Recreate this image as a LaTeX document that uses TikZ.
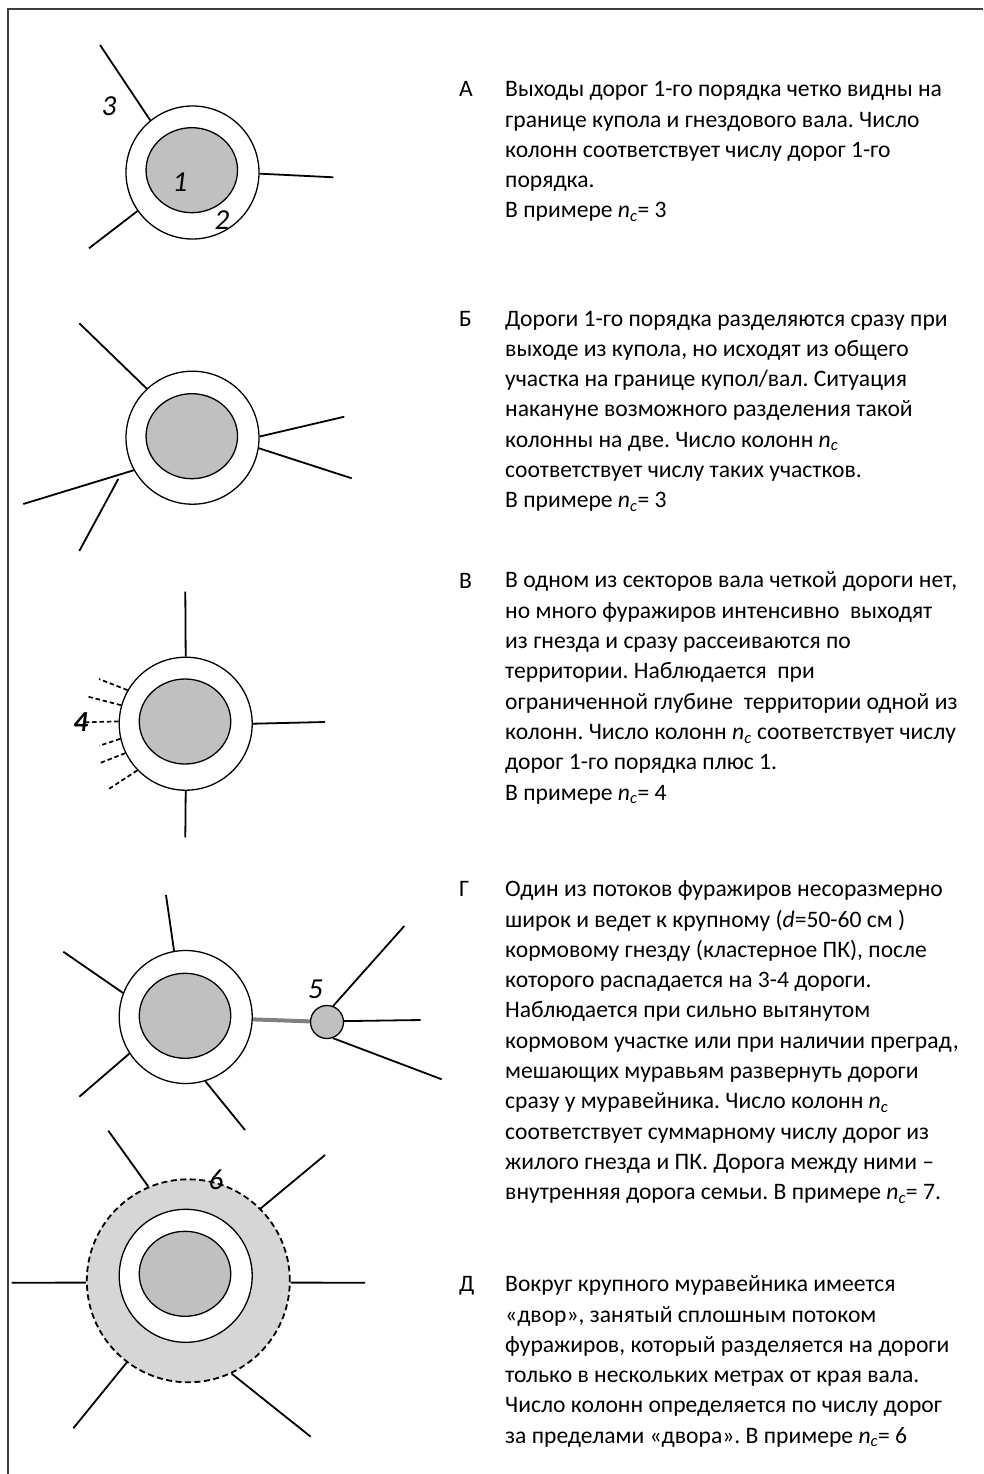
\documentclass[tikz,border=0pt]{standalone}
\usepackage{fontspec}
\setmainfont{Carlito}
\usetikzlibrary{shapes.geometric,calc}
\definecolor{domegray}{RGB}{192,192,192}
\definecolor{yardgray}{RGB}{214,214,214}
\definecolor{linkgray}{RGB}{128,128,128}
\definecolor{framegray}{RGB}{60,60,60}
\newcommand{\ncol}{\textit{n}\textsubscript{\textit{c}}}
\frenchspacing
\begin{document}
\begin{tikzpicture}[x=1pt,y=-1pt,
 wall/.style={circle,draw,line width=1.3pt,fill=white,inner sep=0pt,minimum size=133pt},
 dome/.style={ellipse,draw,line width=1.3pt,fill=domegray,inner sep=0pt,minimum width=91.5pt,minimum height=85pt},
 cluster/.style={circle,draw,line width=1.3pt,fill=domegray,inner sep=0pt,minimum size=33pt},
 yard/.style={circle,draw,line width=1.8pt,dash pattern=on 6pt off 3.5pt,fill=yardgray,inner sep=0pt,minimum size=203pt},
 road/.style={line width=1.8pt},
 trail/.style={line width=1.7pt,dash pattern=on 4.5pt off 2.8pt},
 link/.style={line width=4pt,draw=linkgray},
 num/.style={font=\fontsize{29}{30}\selectfont\itshape,inner sep=0pt},
 para/.style={anchor=base west,align=left,inner sep=0pt,font=\fontsize{23.6}{30.3}\selectfont},
 tag/.style={anchor=base west,inner sep=0pt,font=\fontsize{23.6}{30.3}\selectfont},
 frame/.style={draw=framegray,line width=1.6pt}]
\useasboundingbox (0,0) rectangle (983,1474);
\coordinate (fb) at (8,1474);
\coordinate (fc) at (8,9);
\coordinate (fr) at (983,9);
\draw[frame] (fb) -- (fc) -- (fr);

% ---- A ----
\node[wall] (A) at (192.5,172.5) {};
\node[dome] (Ad) at (191.8,170.2) {};
\coordinate (a1) at (100,45);
\coordinate (a2) at (333.3,177.3);
\coordinate (a3) at (89,248.3);
\draw[road] (A.129.4) -- (a1);
\draw[road] (A.-1.5) -- (a2);
\draw[road] (A.215.8) -- (a3);
\node[num] (n1) at (180,181.7) {1};
\node[num] (n2) at (222,220) {2};
\node[num] (n3) at (109,106) {3};

% ---- B ----
\node[wall] (B) at (192.5,437.7) {};
\node[dome] (Bd) at (191.8,436.2) {};
\coordinate (b1) at (79.3,323.3);
\coordinate (b2) at (344.3,416.7);
\coordinate (b3) at (351.7,478.3);
\coordinate (b4) at (23.3,504);
\coordinate (b5s) at (118.3,479);
\coordinate (b5) at (79.3,551);
\draw[road] (B.133.4) -- (b1);
\draw[road] (B.1.5) -- (b2);
\draw[road] (B.-9.7) -- (b3);
\draw[road] (B.209.1) -- (b4);
\draw[road] (b5s) -- (b5);

% ---- C ----
\node[wall] (C) at (185.7,723.7) {};
\node[dome] (Cd) at (185,721.5) {};
\coordinate (c1) at (185.3,591.7);
\coordinate (c2) at (325,722);
\coordinate (c3) at (185.3,837.3);
\draw[road] (C.90) -- (c1);
\draw[road] (C.0.8) -- (c2);
\draw[road] (C.270) -- (c3);
\coordinate (t1) at (99,679);
\coordinate (t2) at (88.3,696.7);
\coordinate (t3) at (86,722.3);
\coordinate (t4) at (99.3,745.7);
\coordinate (t5) at (99.3,763.3);
\coordinate (t6) at (107.3,790);
\draw[trail] (C.150.1) -- (t1);
\draw[trail] (C.164) -- (t2);
\draw[trail] (C.178.8) -- (t3);
\draw[trail] (C.193.8) -- (t4);
\draw[trail] (C.206.9) -- (t5);
\draw[trail] (C.224.2) -- (t6);
\node[num,font=\fontsize{29}{30}\selectfont\itshape\bfseries] (n4) at (80.8,722.5) {4};

% ---- D ----
\node[wall] (D) at (185.7,1017) {};
\node[dome] (Dd) at (185,1015.8) {};
\node[cluster] (P) at (327,1022) {};
\draw[link] (D) -- (P);
\coordinate (d1) at (166,895);
\coordinate (d2) at (63.3,951.7);
\coordinate (d3) at (79.3,1096.7);
\coordinate (d4) at (245,1130);
\draw[road] (D.100.8) -- (d1);
\draw[road] (D.159.4) -- (d2);
\draw[road] (D.213.5) -- (d3);
\draw[road] (D.287) -- (d4);
\coordinate (p1) at (404.3,926);
\coordinate (p2) at (420.7,1020);
\coordinate (p3) at (441.7,1079.3);
\draw[road] (P.69.7) -- (p1);
\draw[road] (P.3.5) -- (p2);
\draw[road] (P.-70) -- (p3);
\node[num] (n5) at (315.5,989) {5};

% ---- E ----
\node[yard] (E) at (188.3,1280.8) {};
\node[wall] (Ew) at (185.7,1275.8) {};
\node[dome] (Ed) at (185,1273.8) {};
\coordinate (e1) at (108.3,1130.7);
\coordinate (e2) at (325,1155);
\coordinate (e3) at (11.7,1282.7);
\coordinate (e4) at (365,1282.7);
\coordinate (e5) at (73.3,1428.3);
\coordinate (e6) at (310.7,1436.7);
\draw[road] (E.113) -- (e1);
\draw[road] (E.45) -- (e2);
\draw[road] (E.181) -- (e3);
\draw[road] (E.-1) -- (e4);
\draw[road] (E.233.5) -- (e5);
\draw[road] (E.295.3) -- (e6);
\node[num] (n6) at (216,1180) {6};

% ---- texts (para nodes are placed by the baseline of their last line) ----
\node[tag] (ta) at (459,96.8) {А};
\node[para] (pa) at (505,218) {Выходы дорог 1-го порядка четко видны на\\
границе купола и гнездового вала. Число\\
колонн соответствует числу дорог 1-го\\
порядка.\\
В примере \ncol= 3};

\node[tag] (tb) at (459,326) {Б};
\node[para] (pb) at (505,507.8) {Дороги 1-го порядка разделяются сразу при\\
выходе из купола, но исходят из общего\\
участка на границе купол/вал. Ситуация\\
накануне возможного разделения такой\\
колонны на две. Число колонн \ncol\\
соответствует числу таких участков.\\
В примере \ncol= 3};

\node[tag] (tv) at (459,588) {В};
\node[para] (pv) at (505,800) {В одном из секторов вала четкой дороги нет,\\
но много фуражиров интенсивно\ \ выходят\\
из гнезда и сразу рассеиваются по\\
территории. Наблюдается\ \ при\\
ограниченной глубине\ \ территории одной из\\
колонн. Число колонн \ncol{} соответствует числу\\
дорог 1-го порядка плюс 1.\\
В примере \ncol= 4};

\node[tag] (tg) at (459,896.7) {Г};
\node[para] (pg) at (505,1199.7) {Один из потоков фуражиров несоразмерно\\
широк и ведет к крупному (\textit{d}=50-60 см )\\
кормовому гнезду (кластерное ПК), после\\
которого распадается на 3-4 дороги.\\
Наблюдается при сильно вытянутом\\
кормовом участке или при наличии преград,\\
мешающих муравьям развернуть дороги\\
сразу у муравейника. Число колонн \ncol\\
соответствует суммарному числу дорог из\\
жилого гнезда и ПК. Дорога между ними --\\
внутренняя дорога семьи. В примере \ncol= 7.};

\node[tag] (td) at (459,1291.7) {Д};
\node[para] (pd) at (505,1443.2) {Вокруг крупного муравейника имеется\\
«двор», занятый сплошным потоком\\
фуражиров, который разделяется на дороги\\
только в нескольких метрах от края вала.\\
Число колонн определяется по числу дорог\\
за пределами «двора». В примере \ncol= 6};
\end{tikzpicture}
\end{document}
